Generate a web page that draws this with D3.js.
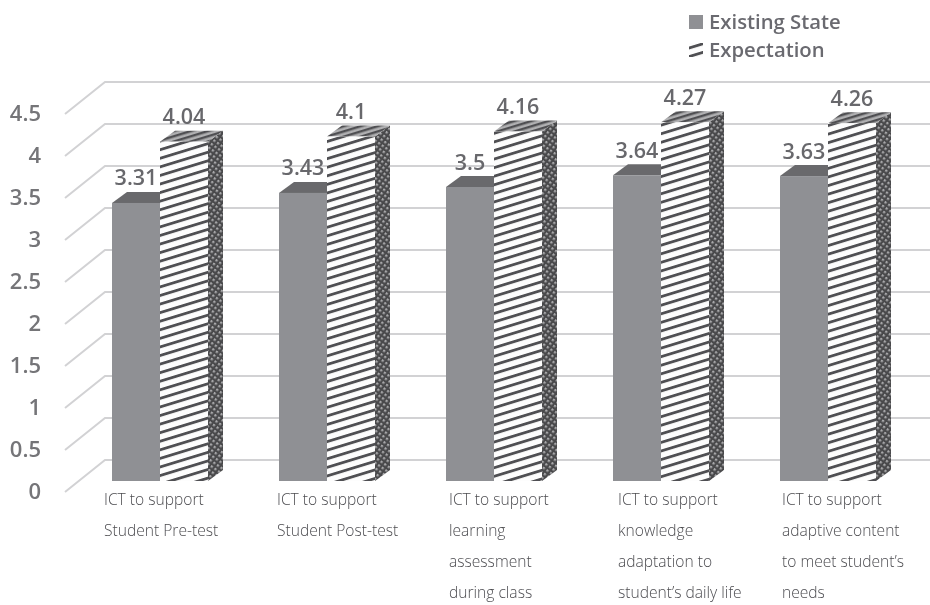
<!DOCTYPE html>
<html><head><meta charset="utf-8">
<script src="https://cdn.jsdelivr.net/npm/d3@7/dist/d3.min.js"></script>
<style>html,body{margin:0;background:#fff}svg{display:block}</style></head>
<body><svg id="c" width="930" height="605"></svg>
<script>
const categories = [
  ["ICT to support","Student Pre-test"],
  ["ICT to support","Student Post-test"],
  ["ICT to support","learning","assessment","during class"],
  ["ICT to support","knowledge","adaptation to","student\u2019s daily life"],
  ["ICT to support","adaptive content","to meet student\u2019s","needs"]
];
const existingState = [3.31,3.43,3.5,3.64,3.63];
const expectation = [4.04,4.1,4.16,4.27,4.26];
const tickValues = [0,0.5,1,1.5,2,2.5,3,3.5,4,4.5];
const seriesNames = ["Existing State","Expectation"];

const svg = d3.select("#c");
const defs = svg.append("defs");
const soft = defs.append("filter").attr("id","soft");
soft.append("feGaussianBlur").attr("stdDeviation",0.55);

function hatch(id,bg,fg,h,w,rot){
  const p = defs.append("pattern").attr("id",id).attr("patternUnits","userSpaceOnUse")
    .attr("width",40).attr("height",h).attr("patternTransform",`rotate(${rot})`);
  p.append("rect").attr("width",40).attr("height",h).attr("fill",bg);
  p.append("rect").attr("width",40).attr("height",w).attr("fill",fg);
}
hatch("hFront","#fdfdfd","#505052",8.2,2.8,-17);
hatch("hTop","#b0b0b2","#505052",5,2.4,-17);
const side = defs.append("pattern").attr("id","hSide").attr("patternUnits","userSpaceOnUse")
  .attr("width",4.4).attr("height",4.4).attr("patternTransform","rotate(35)");
side.append("rect").attr("width",4.4).attr("height",4.4).attr("fill","#4a4a4c");
side.append("rect").attr("width",2.2).attr("height",2.2).attr("fill","#a8a8aa");

const y = d3.scaleLinear().domain([0,4.5]).range([481,103]);
const n = categories.map((_,i)=>i);
const x0 = d3.scaleBand().domain(n).range([56,891]).paddingInner(0).paddingOuter(0);
const bw = 48, dx = 15, dy = -11;
const wall = {dx:40,dy:-32};

const g = svg.append("g").attr("filter","url(#soft)");

// gridlines: side wall and back wall
const axisY = d3.scaleLinear().domain([0,4.5]).range([491,113]);
const grid = g.append("g");
grid.selectAll("path").data(tickValues).join("path")
  .attr("d",d=>{const v=axisY(d)+1;
    return `M65,${v}L${65+wall.dx},${v+wall.dy}H930`;})
  .attr("fill","none").attr("stroke","#d2d2d4").attr("stroke-width",2);

// axis
const axis = d3.axisLeft(axisY).tickValues(tickValues).tickFormat(d=>String(d)).tickSize(0).tickPadding(0);
const ag = g.append("g").attr("transform","translate(41,0)").call(axis);
ag.select(".domain").remove();
ag.selectAll("text").attr("font-family","'Open Sans'").attr("font-weight",600)
  .attr("font-size",22).attr("fill","#747478");

function bar(sel,xs,val,front,top,sideF){
  const t=y(val), b=y(0);
  const quad=(pts)=>d3.line()(pts)+"Z";
  sel.append("path").attr("d",quad([[xs+bw,t],[xs+bw+dx,t+dy],[xs+bw+dx,b+dy],[xs+bw,b]])).attr("fill",sideF);
  sel.append("path").attr("d",quad([[xs,t],[xs+dx,t+dy],[xs+bw+dx,t+dy],[xs+bw,t]])).attr("fill",top);
  sel.append("rect").attr("x",xs).attr("y",t).attr("width",bw).attr("height",b-t).attr("fill",front);
}
const bars = g.append("g");
n.forEach(i=>{
  const c = bars.append("g");
  const xs = x0(i)+56;
  bar(c,xs,existingState[i],"#8f9094","#69696c","#69696c");
  bar(c,xs+bw,expectation[i],"url(#hFront)","url(#hTop)","url(#hSide)");
});

// data labels
function labels(vals,off){
  g.append("g").selectAll("text").data(vals).join("text")
    .attr("x",(d,i)=>x0(i)+56+off).attr("y",d=>y(d)-25).attr("dy","0.35em")
    .attr("text-anchor","middle").attr("font-family","'Open Sans'").attr("font-weight",600)
    .attr("font-size",21.5).attr("fill","#68686c").text(d=>String(d));
}
labels(existingState,24);
labels(expectation,72);

// category labels
const labelX = d3.scaleOrdinal().domain(n).range([104,277,449,618,782]);
const lineY = d3.scaleLinear().domain([0,3]).range([500,593]);
const cg = g.append("g");
n.forEach(i=>{
  cg.selectAll(null).data(categories[i]).join("text")
    .attr("x",labelX(i)).attr("y",(d,k)=>lineY(k)).attr("dy","0.35em")
    .attr("font-family","'Open Sans'").attr("font-weight",300)
    .attr("font-size",15.6).attr("fill","#4c4c50").text(d=>d);
});

// legend
const lg = g.append("g");
const legY = d3.scalePoint().domain(seriesNames).range([22,50]);
lg.selectAll("rect").data(seriesNames).join("rect")
  .attr("x",689).attr("y",d=>legY(d)-7).attr("width",14).attr("height",14)
  .attr("fill",(d,i)=>i?"url(#hFront)":"#8f9094");
lg.selectAll("text").data(seriesNames).join("text")
  .attr("x",709).attr("y",d=>legY(d)).attr("dy","0.35em")
  .attr("font-family","'Open Sans'").attr("font-weight",600)
  .attr("font-size",20.3).attr("fill","#6a6a70").text(d=>d);
</script></body></html>
